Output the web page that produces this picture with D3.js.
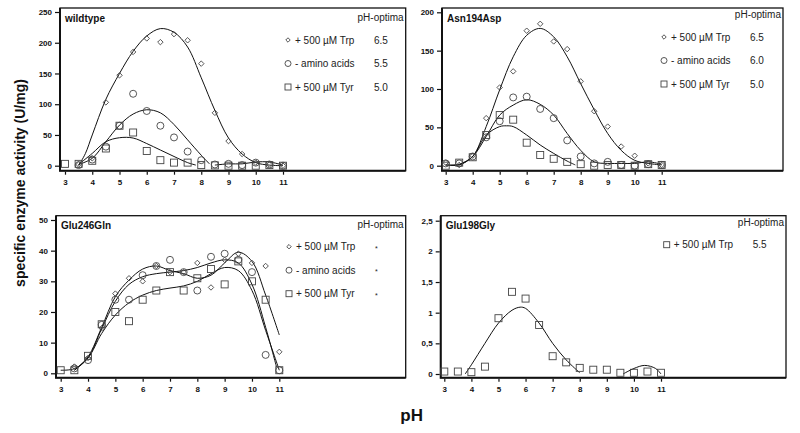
<!DOCTYPE html>
<html>
<head>
<meta charset="utf-8">
<title>pH optima</title>
<script src="https://d3js.org/d3.v7.min.js"></script>
<style>
  body { margin: 0; background: #fff; }
  svg { font-family: "Liberation Sans", Arial, sans-serif; }
</style>
</head>
<body>
<div id="chart"></div>
<script>
// measured pH steps
var pH = [3, 3.5, 4, 4.5, 5, 5.5, 6, 6.5, 7, 7.5, 8, 8.5, 9, 9.5, 10, 10.5, 11];

// wildtype (U/mg)
var wtTrp   = [null, 2, 12, 103, 147, 185, 207, 201, 214, 204, 166, 86, 40, 19, 5, 2, 0];
var wtAmino = [null, 1, 10, 31, 65, 117, 89, 65, 46, 23, 9, 2, 3, 1, 5, 2, 0];
var wtTyr   = [3, 3, 8, 28, 65, 54, 24, 9, 5, 5, 1, 0.5, 0, 0, 0, 1, 0];

// Asn194Asp
var asnTrp   = [4, 1, 13, 62, 102, 123, 176, 185, 162, 152, 110, 71, 51, 25, 13, 3, 1];
var asnAmino = [3, 3, 12, 37, 58, 89, 90, 74, 62, 33, 12, 3, 5, 1, 0, 2, 1];
var asnTyr   = [0, 4, 11, 40, 66, 60, 30, 14, 9, 5, 2, 0, 1, 1, 0, 2, 1];

// Glu246Gln
var gqTrp   = [null, 2.2, 5, 14.7, 26, 31, 30, 35, 33, 33, 36, 28, 37, 39, 36, 35, 7];
var gqAmino = [null, 1.6, 4.3, 15.8, 24, 24, 32, 35, 37, 33, 27, 38, 39, 37, 33, 6, 1];
var gqTyr   = [1, 1, 5.7, 16, 20, 17, 24, 27, 33, 27, 31, 34, 29, 36.5, 30, 24, 1];

// Glu198Gly
var ggTrp = [0.04, 0.04, 0.03, 0.12, 0.91, 1.34, 1.23, 0.80, 0.29, 0.19, 0.10, 0.07, 0.07, 0.02, 0.02, 0.04, 0.02];

// fitted curves as [pH, activity]
var wtTrpFit    = [[3.5,0],[3.75,20],[4,50],[4.5,108],[5,150],[5.5,186],[6,211],[6.5,223],[7,217],[7.5,193],[8,143],[8.5,90],[9,45],[9.5,19],[10,5],[10.5,1],[11,0]];
var wtAminoFit  = [[3.5,2],[4,12],[4.5,39],[5,66],[5.5,84],[6,91],[6.5,86],[7,67],[7.5,42],[8,17],[8.3,3]];
var wtAminoFit2 = [[8.5,1],[9,3],[9.5,3],[10,6],[10.5,6],[11,1]];
var wtTyrFit    = [[3.5,2],[4,20],[4.5,39],[5,45.5],[5.5,45],[6,36],[6.5,25.5],[7,15],[7.5,5],[7.8,1]];

var asnTrpFit   = [[3.5,1],[4,12],[4.5,51],[5,99],[5.5,142],[6,170],[6.5,179],[7,168],[7.5,142],[8,107],[8.5,73],[9,42],[9.5,20],[10,7],[10.5,3],[11,1]];
var asnAminoFit = [[3,1],[3.5,2],[4,12],[4.5,38],[5,66],[5.5,79],[6,86],[6.5,80],[7,66],[7.5,42],[8,20],[8.5,5],[9,3],[9.5,3],[10,3],[10.5,5],[11,2]];
var asnTyrFit   = [[3,1],[3.5,1],[4,12],[4.5,40],[5,51],[5.25,52],[5.5,51],[6,40],[6.5,27],[7,16],[7.5,6],[7.8,1]];

var gqTrpFit   = [[3.5,1],[4,5.4],[4.5,15],[5,25],[5.5,30.4],[6,34],[6.5,35],[7,33.5],[7.5,32.5],[8,31],[8.5,32],[9,36],[9.5,39.5],[10,36.5],[10.5,25.5],[11,12.5]];
var gqAminoFit = [[3.5,1],[4,5],[4.5,14.5],[5,23.5],[5.5,29],[6,31.5],[6.5,32.5],[7,33],[7.5,33.5],[8,34.5],[8.5,36],[9,37],[9.5,36],[10,29],[10.5,15],[10.9,2]];
var gqTyrFit   = [[3,1],[3.5,1.5],[4,5],[4.5,13],[5,19],[5.5,23],[6,25.5],[6.5,27],[7,27.8],[7.5,28.5],[8,30],[8.5,32.5],[9,34.5],[9.5,33.5],[10,27],[10.5,14],[11,1]];

var ggTrpFit  = [[3.77,0],[4,0.15],[4.5,0.5],[5,0.83],[5.5,1.04],[5.8,1.09],[6,1.07],[6.5,0.83],[7,0.5],[7.5,0.23],[8,0.02]];
var ggTrpFit2 = [[9.6,0],[10,0.09],[10.4,0.14],[10.8,0.09],[11,0]];

// tick labels
var xTicks    = [3, 4, 5, 6, 7, 8, 9, 10, 11];
var yTicksWt  = [0, 50, 100, 150, 200, 250];
var yTicksAsn = [0, 50, 100, 150, 200];
var yTicksGq  = [0, 10, 20, 30, 40, 50];
var yTicksGg  = [0, 0.5, 1, 1.5, 2, 2.5];

// legend
var legendLabels = ["+ 500 \u00B5M Trp", "- amino acids", "+ 500 \u00B5M Tyr"];
var wtOptima  = ["6.5", "5.5", "5.0"];
var asnOptima = ["6.5", "6.0", "5.0"];
var gqOptima  = ["*", "*", "*"];
var ggLabels  = ["+ 500 \u00B5M Trp"];
var ggOptima  = ["5.5"];

var svg = d3.select("#chart").append("svg")
    .attr("width", 800)
    .attr("height", 433);

// box = [left, top, right, bottom]; xr = pixel of pH 3 and 11; yr = pixel of 0 and yMax
var panels = [
  {title: "wildtype", box: [60, 8, 405.7, 170.7], xr: [65, 283], yr: [165.7, 12], yMax: 250, yTicks: yTicksWt,
   series: [wtTrp, wtAmino, wtTyr], fits: [[wtTrpFit], [wtAminoFit, wtAminoFit2], [wtTyrFit]],
   shapes: ["diamond", "circle", "square"], labels: legendLabels, optima: wtOptima, leg: [228, 32, 12.5]},
  {title: "Asn194Asp", box: [442, 8, 783, 170.7], xr: [445.7, 661.7], yr: [165.7, 12.3], yMax: 200, yTicks: yTicksAsn,
   series: [asnTrp, asnAmino, asnTyr], fits: [[asnTrpFit], [asnAminoFit], [asnTyrFit]],
   shapes: ["diamond", "circle", "square"], labels: legendLabels, optima: asnOptima, leg: [222, 29, 9.5]},
  {title: "Glu246Gln", box: [56, 215.7, 405.7, 377.7], xr: [60.7, 279.3], yr: [373.3, 220], yMax: 50, yTicks: yTicksGq,
   series: [gqTrp, gqAmino, gqTyr], fits: [[gqTrpFit], [gqAminoFit], [gqTyrFit]],
   shapes: ["diamond", "circle", "square"], labels: legendLabels, optima: gqOptima, leg: [233, 31, 12.5]},
  {title: "Glu198Gly", box: [440.7, 215.7, 786, 377.7], xr: [444.3, 661], yr: [374, 220.7], yMax: 2.5, yTicks: yTicksGg,
   series: [ggTrp], fits: [[ggTrpFit, ggTrpFit2]],
   shapes: ["square"], labels: ggLabels, optima: ggOptima, leg: [226, 29, 10.5]}
];

function marker(sel, shape, cx, cy, s) {
  if (shape === "circle") {
    sel.append("circle").attr("cx", cx).attr("cy", cy).attr("r", s);
  } else if (shape === "square") {
    sel.append("rect").attr("x", cx - s).attr("y", cy - s).attr("width", 2 * s).attr("height", 2 * s);
  } else {
    var d = s * 0.85;
    sel.append("path").attr("d", "M" + cx + "," + (cy - d) + "L" + (cx + d) + "," + cy +
      "L" + cx + "," + (cy + d) + "L" + (cx - d) + "," + cy + "Z");
  }
}

panels.forEach(function(p) {
  var L = p.box[0], T = p.box[1], R = p.box[2], B = p.box[3];
  var x = d3.scaleLinear().domain([3, 11]).range(p.xr);
  var y = d3.scaleLinear().domain([0, p.yMax]).range(p.yr);
  var g = svg.append("g");

  // frame
  g.append("rect").attr("x", L).attr("y", T).attr("width", R - L).attr("height", B - T)
    .attr("fill", "none").attr("stroke", "#111").attr("stroke-width", 1.3);
  g.append("path").attr("d", "M" + L + "," + T + "V" + B + "H" + R)
    .attr("fill", "none").attr("stroke", "#111").attr("stroke-width", 2);

  // axes
  var ya = g.append("g").attr("transform", "translate(" + (L - 1) + ",0)")
    .call(d3.axisLeft(y).tickValues(p.yTicks).tickSize(4).tickPadding(3)
      .tickFormat(function(d) { return String(d).replace(".", ","); }));
  var xa = g.append("g").attr("transform", "translate(0," + (B + 1) + ")")
    .call(d3.axisBottom(x).tickValues(xTicks).tickSize(3).tickPadding(5));
  [ya, xa].forEach(function(a) {
    a.select(".domain").remove();
    a.selectAll("line").attr("stroke", "#111").attr("stroke-width", 1.2);
    a.selectAll("text").attr("font-size", 8).attr("font-weight", "bold")
      .attr("font-family", "'Liberation Sans', Arial, sans-serif").attr("fill", "#111");
  });

  // fitted curves
  var line = d3.line()
    .x(function(d) { return x(d[0]); })
    .y(function(d) { return y(d[1]); })
    .curve(d3.curveCatmullRom.alpha(0.5));
  p.fits.forEach(function(parts) {
    parts.forEach(function(f) {
      g.append("path").attr("d", line(f)).attr("fill", "none")
        .attr("stroke", "#111").attr("stroke-width", 1);
    });
  });

  // measured points
  var pts = g.append("g").attr("fill", "none").attr("stroke", "#444").attr("stroke-width", 0.9);
  p.series.forEach(function(vals, i) {
    var sz = p.shapes[i] === "diamond" ? 3.2 : 3.5;
    vals.forEach(function(v, j) {
      if (v === null) return;
      marker(pts, p.shapes[i], x(pH[j]), y(v), sz);
    });
  });

  // title
  g.append("text").attr("x", L + 5).attr("y", T + 13.5)
    .attr("font-size", 10).attr("font-weight", "bold").attr("fill", "#111").text(p.title);

  // legend
  g.append("text").attr("x", R - 2).attr("y", T + p.leg[2]).attr("text-anchor", "end")
    .attr("font-size", 10).attr("fill", "#222").text("pH-optima");
  var lg = g.append("g");
  var sym = lg.append("g").attr("fill", "none").attr("stroke", "#444").attr("stroke-width", 0.9);
  p.labels.forEach(function(lab, i) {
    var sx = L + p.leg[0], sy = T + p.leg[1] + i * 23.5;
    marker(sym, p.shapes[i], sx, sy, p.shapes[i] === "diamond" ? 2.6 : 3);
    lg.append("text").attr("x", sx + 7).attr("y", sy + 3.5)
      .attr("font-size", 10).attr("fill", "#222").text(lab);
    lg.append("text").attr("x", sx + 86).attr("y", sy + (p.optima[i] === "*" ? 4 : 3.5))
      .attr("font-size", p.optima[i] === "*" ? 7 : 10).attr("fill", "#222").text(p.optima[i]);
  });
});

// shared axis titles
svg.append("text")
  .attr("transform", "translate(25,183)rotate(-90)")
  .attr("text-anchor", "middle")
  .attr("font-size", 14).attr("font-weight", "bold").attr("fill", "#111")
  .text("specific enzyme activity (U/mg)");

svg.append("text")
  .attr("x", 411.7).attr("y", 421)
  .attr("text-anchor", "middle")
  .attr("font-size", 17).attr("font-weight", "bold").attr("fill", "#111")
  .text("pH");
</script>
</body>
</html>
